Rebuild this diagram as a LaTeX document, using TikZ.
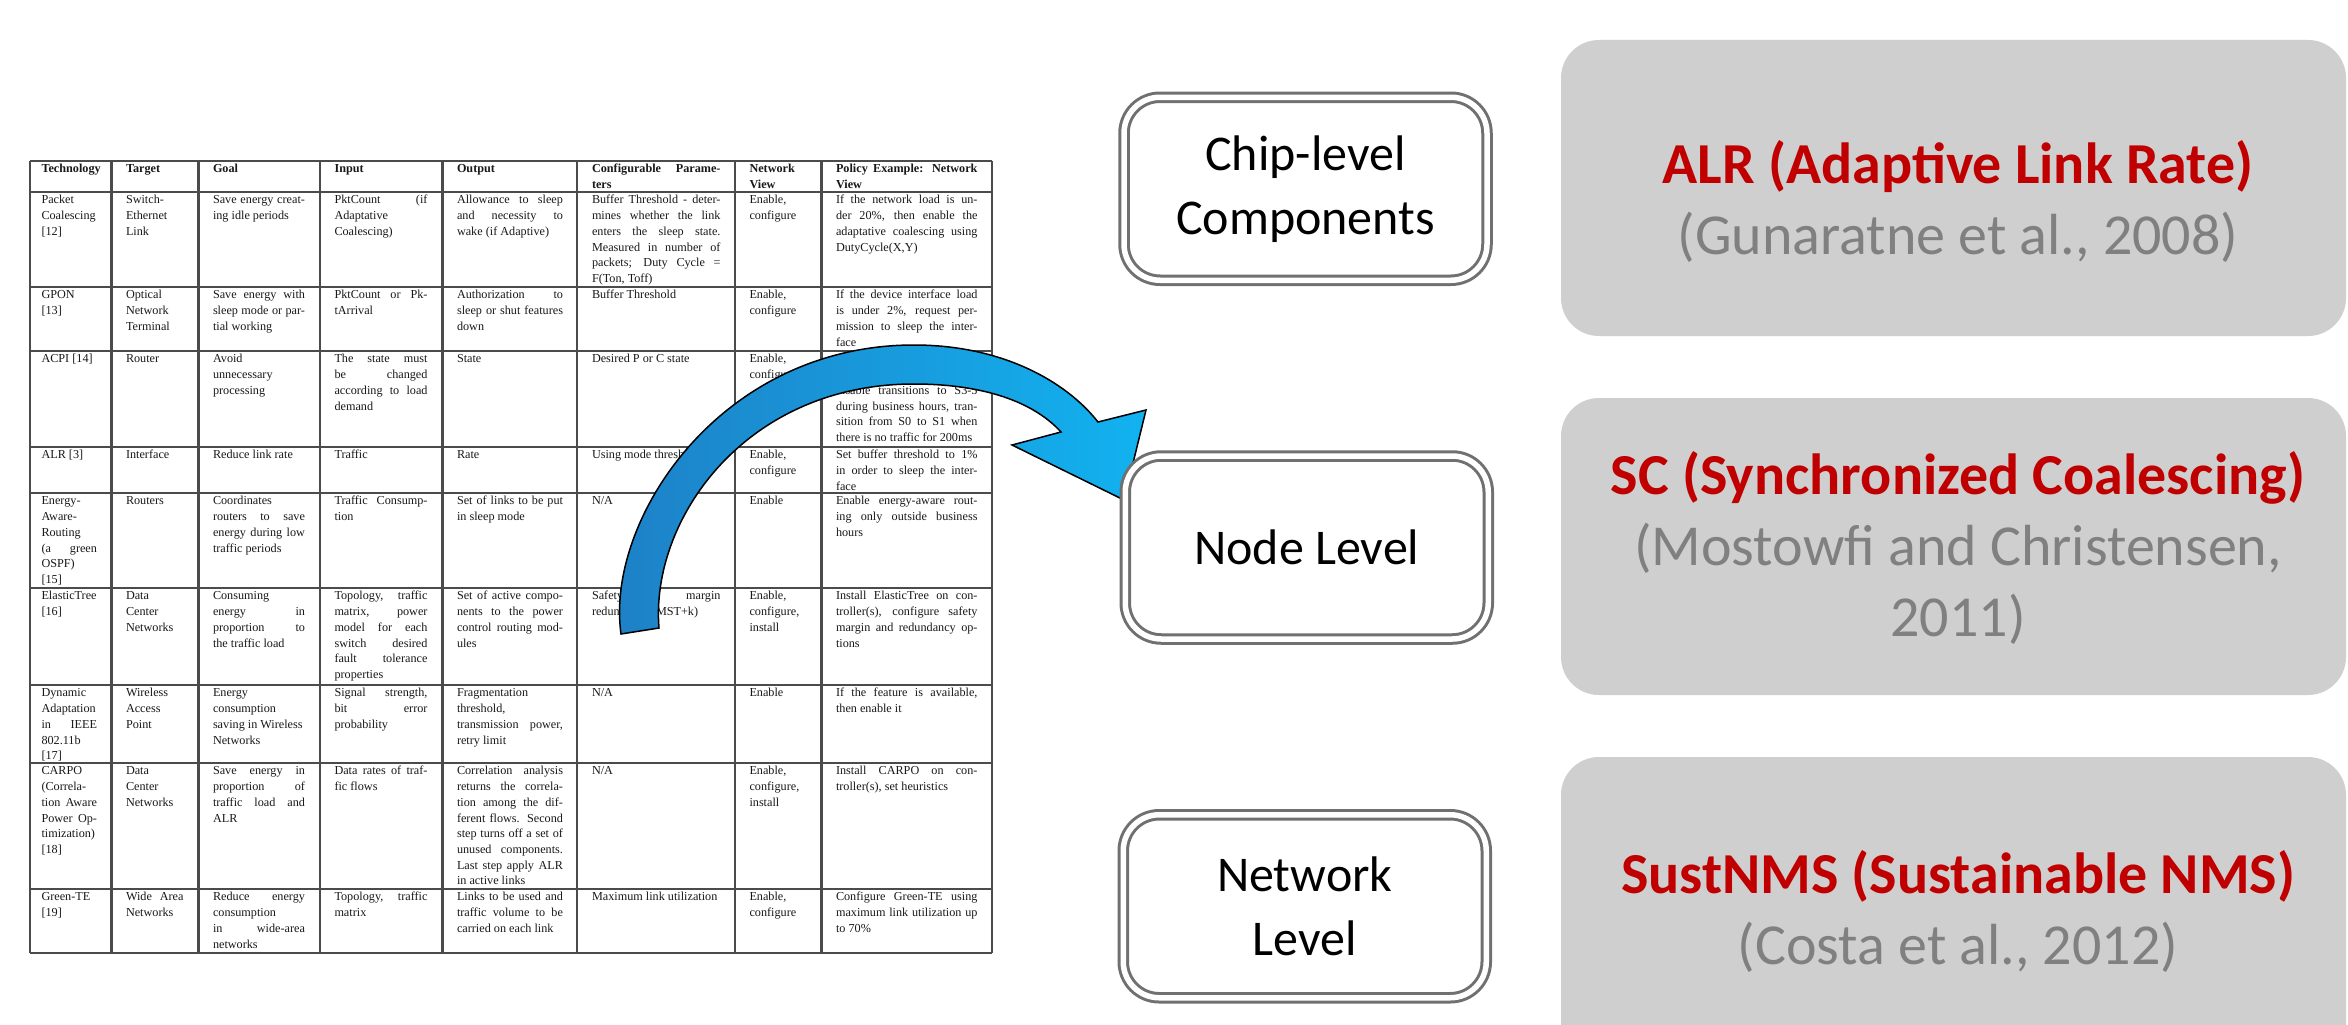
\documentclass[tikz,border=0pt]{standalone}
\usepackage{fontspec}
\setmainfont{Liberation Serif}
\newfontfamily\calibri{Carlito}
\definecolor{tabtext}{RGB}{25,25,25}
\definecolor{tabline}{RGB}{75,75,75}
\definecolor{lvgray}{RGB}{112,112,112}
\definecolor{boxfill}{RGB}{207,207,207}
\definecolor{titlered}{RGB}{192,0,0}
\definecolor{citegray}{RGB}{128,128,128}
\definecolor{ArrDark}{RGB}{30,128,198}
\definecolor{ArrLight}{RGB}{18,178,240}
\hbadness=10000 \hfuzz=60pt \vbadness=10000
\newcommand\cellJ[1]{\hbox to\hsize{\strut#1}}
\newcommand\cellL[1]{\hbox{\strut#1}}
\newcommand\cellrows[2]{\vtop{\hsize=#1pt\relax#2}}
\begin{document}
\begin{tikzpicture}[x=1pt,y=-1pt,
  tcell/.style={anchor=north west, inner sep=0pt, outer sep=0pt, font=\fontsize{12.2}{15.7}\selectfont, text=tabtext},
  thead/.style={tcell, font=\fontsize{12.2}{15.7}\selectfont\bfseries},
  tline/.style={draw=tabline, line width=2.2pt},
  levelbox/.style={draw=lvgray, line width=3pt, double=white, double distance=5.5pt, rounded corners=36pt, minimum width=363pt, minimum height=183pt, inner sep=0pt, align=center, font=\calibri\fontsize{50}{64}\selectfont, text=black},
  refbox/.style={fill=boxfill, draw=none, rounded corners=38pt, inner sep=0pt, minimum width=785pt},
  reftext/.style={align=center, font=\calibri\fontsize{58}{71}\selectfont, text=citegray, inner sep=0pt},
  arrowshape/.style={draw=black, line width=1.5pt, left color=ArrDark, right color=ArrLight}
]
\useasboundingbox (0,0) rectangle (2348,1025);
\fill[white] (0,0) rectangle (2348,1025);
\begin{scope}
\clip (0,0) rectangle (2348,1025);

% ---------- table grid ----------
\foreach \yy in {161,192,287,351,447,493,588,685,763,889,953}
  \draw[tline] (30,\yy) -- (992,\yy);
\foreach \xx in {30,111.5,198.4,319.7,442.5,577.2,735,821.4,992}
  \draw[tline] (\xx,161) -- (\xx,953);

% ---------- header ----------
\node[thead] (h1) at (41.5,162) {\cellrows{55.5}{\cellL{Technology}}};
\node[thead] (h2) at (126,162) {\cellrows{57.5}{\cellL{Target}}};
\node[thead] (h3) at (213,162) {\cellrows{92}{\cellL{Goal}}};
\node[thead] (h4) at (334.5,162) {\cellrows{93}{\cellL{Input}}};
\node[thead] (h5) at (457,162) {\cellrows{106}{\cellL{Output}}};
\node[thead] (h6) at (592,162) {\cellrows{128.5}{\cellJ{Configurable Parame-}\cellL{ters}}};
\node[thead] (h7) at (749.5,162) {\cellrows{57}{\cellL{Network}\cellL{View}}};
\node[thead] (h8) at (836,162) {\cellrows{141.5}{\cellJ{Policy Example: Network}\cellL{View}}};

% ---------- row 1 ----------
\node[tcell] (r1c1) at (41.5,193) {\cellrows{55.5}{\cellL{Packet}\cellL{Coalescing}\cellL{[12]}}};
\node[tcell] (r1c2) at (126,193) {\cellrows{57.5}{\cellL{Switch-}\cellL{Ethernet}\cellL{Link}}};
\node[tcell] (r1c3) at (213,193) {\cellrows{92}{\cellJ{Save energy creat-}\cellL{ing idle periods}}};
\node[tcell] (r1c4) at (334.5,193) {\cellrows{93}{\cellJ{PktCount (if}\cellL{Adaptative}\cellL{Coalescing)}}};
\node[tcell] (r1c5) at (457,193) {\cellrows{106}{\cellJ{Allowance to sleep}\cellJ{and necessity to}\cellL{wake (if Adaptive)}}};
\node[tcell] (r1c6) at (592,193) {\cellrows{128.5}{\cellJ{Buffer Threshold - deter-}\cellJ{mines whether the link}\cellJ{enters the sleep state.}\cellJ{Measured in number of}\cellJ{packets; Duty Cycle =}\cellL{F(Ton, Toff)}}};
\node[tcell] (r1c7) at (749.5,193) {\cellrows{57}{\cellL{Enable,}\cellL{configure}}};
\node[tcell] (r1c8) at (836,193) {\cellrows{141.5}{\cellJ{If the network load is un-}\cellJ{der 20\%, then enable the}\cellJ{adaptative coalescing using}\cellL{DutyCycle(X,Y)}}};

% ---------- row 2 ----------
\node[tcell] (r2c1) at (41.5,288) {\cellrows{55.5}{\cellL{GPON}\cellL{[13]}}};
\node[tcell] (r2c2) at (126,288) {\cellrows{57.5}{\cellL{Optical}\cellL{Network}\cellL{Terminal}}};
\node[tcell] (r2c3) at (213,288) {\cellrows{92}{\cellJ{Save energy with}\cellJ{sleep mode or par-}\cellL{tial working}}};
\node[tcell] (r2c4) at (334.5,288) {\cellrows{93}{\cellJ{PktCount or Pk-}\cellL{tArrival}}};
\node[tcell] (r2c5) at (457,288) {\cellrows{106}{\cellJ{Authorization to}\cellJ{sleep or shut features}\cellL{down}}};
\node[tcell] (r2c6) at (592,288) {\cellrows{128.5}{\cellL{Buffer Threshold}}};
\node[tcell] (r2c7) at (749.5,288) {\cellrows{57}{\cellL{Enable,}\cellL{configure}}};
\node[tcell] (r2c8) at (836,288) {\cellrows{141.5}{\cellJ{If the device interface load}\cellJ{is under 2\%, request per-}\cellJ{mission to sleep the inter-}\cellL{face}}};

% ---------- row 3 ----------
\node[tcell] (r3c1) at (41.5,352) {\cellrows{55.5}{\cellL{ACPI [14]}}};
\node[tcell] (r3c2) at (126,352) {\cellrows{57.5}{\cellL{Router}}};
\node[tcell] (r3c3) at (213,352) {\cellrows{92}{\cellL{Avoid}\cellL{unnecessary}\cellL{processing}}};
\node[tcell] (r3c4) at (334.5,352) {\cellrows{93}{\cellJ{The state must}\cellJ{be changed}\cellJ{according to load}\cellL{demand}}};
\node[tcell] (r3c5) at (457,352) {\cellrows{106}{\cellL{State}}};
\node[tcell] (r3c6) at (592,352) {\cellrows{128.5}{\cellL{Desired P or C state}}};
\node[tcell] (r3c7) at (749.5,352) {\cellrows{57}{\cellL{Enable,}\cellL{configure}}};
\node[tcell] (r3c8) at (836,352) {\cellrows{141.5}{\cellJ{Allow transitions to}\cellJ{S0-2 during business hours,}\cellJ{disable transitions to S3-5}\cellJ{during business hours, tran-}\cellJ{sition from S0 to S1 when}\cellL{there is no traffic for 200ms}}};

% ---------- row 4 ----------
\node[tcell] (r4c1) at (41.5,448) {\cellrows{55.5}{\cellL{ALR [3]}}};
\node[tcell] (r4c2) at (126,448) {\cellrows{57.5}{\cellL{Interface}}};
\node[tcell] (r4c3) at (213,448) {\cellrows{92}{\cellL{Reduce link rate}}};
\node[tcell] (r4c4) at (334.5,448) {\cellrows{93}{\cellL{Traffic}}};
\node[tcell] (r4c5) at (457,448) {\cellrows{106}{\cellL{Rate}}};
\node[tcell] (r4c6) at (592,448) {\cellrows{128.5}{\cellL{Using mode threshold}}};
\node[tcell] (r4c7) at (749.5,448) {\cellrows{57}{\cellL{Enable,}\cellL{configure}}};
\node[tcell] (r4c8) at (836,448) {\cellrows{141.5}{\cellJ{Set buffer threshold to 1\%}\cellJ{in order to sleep the inter-}\cellL{face}}};

% ---------- row 5 ----------
\node[tcell] (r5c1) at (41.5,494) {\cellrows{55.5}{\cellL{Energy-}\cellL{Aware-}\cellL{Routing}\cellJ{(a green}\cellL{OSPF)}\cellL{[15]}}};
\node[tcell] (r5c2) at (126,494) {\cellrows{57.5}{\cellL{Routers}}};
\node[tcell] (r5c3) at (213,494) {\cellrows{92}{\cellL{Coordinates}\cellJ{routers to save}\cellJ{energy during low}\cellL{traffic periods}}};
\node[tcell] (r5c4) at (334.5,494) {\cellrows{93}{\cellJ{Traffic Consump-}\cellL{tion}}};
\node[tcell] (r5c5) at (457,494) {\cellrows{106}{\cellJ{Set of links to be put}\cellL{in sleep mode}}};
\node[tcell] (r5c6) at (592,494) {\cellrows{128.5}{\cellL{N/A}}};
\node[tcell] (r5c7) at (749.5,494) {\cellrows{57}{\cellL{Enable}}};
\node[tcell] (r5c8) at (836,494) {\cellrows{141.5}{\cellJ{Enable energy-aware rout-}\cellJ{ing only outside business}\cellL{hours}}};

% ---------- row 6 ----------
\node[tcell] (r6c1) at (41.5,589) {\cellrows{55.5}{\cellL{ElasticTree}\cellL{[16]}}};
\node[tcell] (r6c2) at (126,589) {\cellrows{57.5}{\cellL{Data}\cellL{Center}\cellL{Networks}}};
\node[tcell] (r6c3) at (213,589) {\cellrows{92}{\cellL{Consuming}\cellJ{energy in}\cellJ{proportion to}\cellL{the traffic load}}};
\node[tcell] (r6c4) at (334.5,589) {\cellrows{93}{\cellJ{Topology, traffic}\cellJ{matrix, power}\cellJ{model for each}\cellJ{switch desired}\cellJ{fault tolerance}\cellL{properties}}};
\node[tcell] (r6c5) at (457,589) {\cellrows{106}{\cellJ{Set of active compo-}\cellJ{nents to the power}\cellJ{control routing mod-}\cellL{ules}}};
\node[tcell] (r6c6) at (592,589) {\cellrows{128.5}{\cellJ{Safety margin}\cellL{redundancy (MST+k)}}};
\node[tcell] (r6c7) at (749.5,589) {\cellrows{57}{\cellL{Enable,}\cellL{configure,}\cellL{install}}};
\node[tcell] (r6c8) at (836,589) {\cellrows{141.5}{\cellJ{Install ElasticTree on con-}\cellJ{troller(s), configure safety}\cellJ{margin and redundancy op-}\cellL{tions}}};

% ---------- row 7 ----------
\node[tcell] (r7c1) at (41.5,686) {\cellrows{55.5}{\cellL{Dynamic}\cellL{Adaptation}\cellJ{in IEEE}\cellL{802.11b}\cellL{[17]}}};
\node[tcell] (r7c2) at (126,686) {\cellrows{57.5}{\cellL{Wireless}\cellL{Access}\cellL{Point}}};
\node[tcell] (r7c3) at (213,686) {\cellrows{92}{\cellL{Energy}\cellL{consumption}\cellL{saving in Wireless}\cellL{Networks}}};
\node[tcell] (r7c4) at (334.5,686) {\cellrows{93}{\cellJ{Signal strength,}\cellJ{bit error}\cellL{probability}}};
\node[tcell] (r7c5) at (457,686) {\cellrows{106}{\cellL{Fragmentation}\cellL{threshold,}\cellJ{transmission power,}\cellL{retry limit}}};
\node[tcell] (r7c6) at (592,686) {\cellrows{128.5}{\cellL{N/A}}};
\node[tcell] (r7c7) at (749.5,686) {\cellrows{57}{\cellL{Enable}}};
\node[tcell] (r7c8) at (836,686) {\cellrows{141.5}{\cellJ{If the feature is available,}\cellL{then enable it}}};

% ---------- row 8 ----------
\node[tcell] (r8c1) at (41.5,764) {\cellrows{55.5}{\cellL{CARPO}\cellL{(Correla-}\cellJ{tion Aware}\cellJ{Power Op-}\cellL{timization)}\cellL{[18]}}};
\node[tcell] (r8c2) at (126,764) {\cellrows{57.5}{\cellL{Data}\cellL{Center}\cellL{Networks}}};
\node[tcell] (r8c3) at (213,764) {\cellrows{92}{\cellJ{Save energy in}\cellJ{proportion of}\cellJ{traffic load and}\cellL{ALR}}};
\node[tcell] (r8c4) at (334.5,764) {\cellrows{93}{\cellJ{Data rates of traf-}\cellL{fic flows}}};
\node[tcell] (r8c5) at (457,764) {\cellrows{106}{\cellJ{Correlation analysis}\cellJ{returns the correla-}\cellJ{tion among the dif-}\cellJ{ferent flows. Second}\cellJ{step turns off a set of}\cellJ{unused components.}\cellJ{Last step apply ALR}\cellL{in active links}}};
\node[tcell] (r8c6) at (592,764) {\cellrows{128.5}{\cellL{N/A}}};
\node[tcell] (r8c7) at (749.5,764) {\cellrows{57}{\cellL{Enable,}\cellL{configure,}\cellL{install}}};
\node[tcell] (r8c8) at (836,764) {\cellrows{141.5}{\cellJ{Install CARPO on con-}\cellL{troller(s), set heuristics}}};

% ---------- row 9 ----------
\node[tcell] (r9c1) at (41.5,890) {\cellrows{55.5}{\cellL{Green-TE}\cellL{[19]}}};
\node[tcell] (r9c2) at (126,890) {\cellrows{57.5}{\cellJ{Wide Area}\cellL{Networks}}};
\node[tcell] (r9c3) at (213,890) {\cellrows{92}{\cellJ{Reduce energy}\cellL{consumption}\cellJ{in wide-area}\cellL{networks}}};
\node[tcell] (r9c4) at (334.5,890) {\cellrows{93}{\cellJ{Topology, traffic}\cellL{matrix}}};
\node[tcell] (r9c5) at (457,890) {\cellrows{106}{\cellJ{Links to be used and}\cellJ{traffic volume to be}\cellL{carried on each link}}};
\node[tcell] (r9c6) at (592,890) {\cellrows{128.5}{\cellL{Maximum link utilization}}};
\node[tcell] (r9c7) at (749.5,890) {\cellrows{57}{\cellL{Enable,}\cellL{configure}}};
\node[tcell] (r9c8) at (836,890) {\cellrows{141.5}{\cellJ{Configure Green-TE using}\cellJ{maximum link utilization up}\cellL{to 70\%}}};

% ---------- curved block arrow ----------
\shadedraw[arrowshape]
  (621,634) .. controls (605,520) and (720,345) .. (914,345)
  .. controls (1000,345) and (1065,380) .. (1098,422)
  -- (1146,410) -- (1124,500) -- (1012,445) -- (1061,432)
  .. controls (1030,398) and (975,384) .. (914,384)
  .. controls (745,384) and (650,520) .. (659,628) -- cycle;

% ---------- level boxes ----------
\node[levelbox] (chip) at (1305.5,188.75) {Chip-level\\Components};
\node[levelbox] (nodelvl) at (1306.75,547.5) {Node Level};
\node[levelbox] (netlvl) at (1304.75,906.25) {Network\\Level};

% ---------- reference boxes ----------
\node[refbox, minimum height=296pt] (alrbox) at (1953.5,188) {};
\node[refbox, minimum height=297pt] (scbox) at (1953.5,546.5) {};
\node[refbox, minimum height=320pt] (nmsbox) at (1953.5,917) {};
\node[reftext] (alrtext) at (1958,201) {\textcolor{titlered}{\bfseries ALR (Adaptive Link Rate)}\\(Gunaratne et al., 2008)};
\node[reftext] (sctext) at (1958,548) {\textcolor{titlered}{\bfseries SC (Synchronized Coalescing)}\\(Mostowfi and Christensen,\\2011)};
\node[reftext] (nmstext) at (1958,911) {\textcolor{titlered}{\bfseries SustNMS (Sustainable NMS)}\\(Costa et al., 2012)};
\end{scope}
\end{tikzpicture}
\end{document}
